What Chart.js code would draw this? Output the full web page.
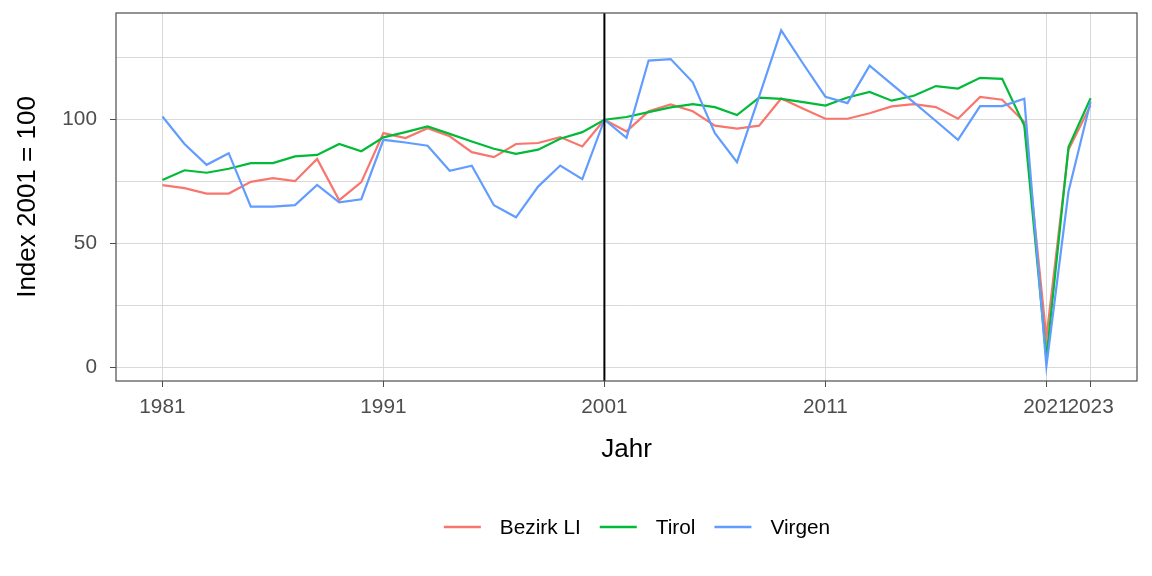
<!DOCTYPE html>
<html>
<head>
<meta charset="utf-8">
<script src="https://cdn.jsdelivr.net/npm/chart.js@4.4.0/dist/chart.umd.min.js"></script>
<style>
  html, body { margin: 0; padding: 0; background: #fff; }
</style>
</head>
<body>
<canvas id="indexChart" width="1152" height="576"></canvas>
<script>
// Jahre 1981 - 2023, Index 2001 = 100
var jahre = [1981,1982,1983,1984,1985,1986,1987,1988,1989,1990,
             1991,1992,1993,1994,1995,1996,1997,1998,1999,2000,
             2001,2002,2003,2004,2005,2006,2007,2008,2009,2010,
             2011,2012,2013,2014,2015,2016,2017,2018,2019,2020,
             2021,2022,2023];

var bezirkLI = [73.6,72.4,70.2,70.2,74.9,76.4,75.2,84.2,67.5,74.8,
                94.6,92.6,96.6,93.3,86.9,84.9,90.2,90.6,93.0,89.2,
                100,95.3,103.4,106.2,103.4,97.6,96.4,97.6,108.6,104.4,
                100.4,100.4,102.6,105.4,106.3,105.1,100.4,109.2,108.1,99.1,
                12.0,87.9,105.8];

var tirol = [75.7,79.6,78.6,80.2,82.5,82.5,85.2,85.8,90.2,87.3,
             92.9,95.0,97.3,94.3,91.2,88.3,86.2,87.9,92.3,95.0,
             100,101.1,103.1,105.0,106.3,105.1,101.9,108.9,108.4,107.1,
             105.7,109.0,111.2,107.7,109.7,113.6,112.6,116.9,116.5,97.7,
             3.6,89.0,108.7];

var virgen = [101.3,90.2,81.8,86.5,64.9,64.9,65.5,73.7,66.6,67.9,
              91.9,90.8,89.5,79.4,81.4,65.5,60.6,73.0,81.5,76.0,
              100,92.7,123.9,124.5,115.1,94.6,82.9,109.3,136.1,122.5,
              109.3,106.7,121.8,114.4,107.0,99.5,91.9,105.5,105.5,108.5,
              0.5,71.0,107.4];

var xTicks = [1981,1991,2001,2011,2021,2023];
var yTicks = [0,25,50,75,100,125];
var yLabels = ['0','','50','','100',''];
var serien = ['Bezirk LI','Tirol','Virgen'];
var farben = ['#F8766D','#00BA38','#619CFF'];
var basisJahr = 2001;

function punkte(werte) {
  var out = [];
  for (var i = 0; i < jahre.length; i++) {
    out.push({x: jahre[i], y: werte[i]});
  }
  return out;
}

var alleWerte = [bezirkLI, tirol, virgen];
var datasets = [];
for (var i = 0; i < serien.length; i++) {
  datasets.push({
    label: serien[i],
    data: punkte(alleWerte[i]),
    borderColor: farben[i],
    backgroundColor: farben[i],
    borderWidth: 2.2,
    pointRadius: 0,
    tension: 0,
    order: serien.length - i
  });
}

var grau = '#4d4d4d';
var gitter = '#d9d9d9';

// Rahmen, vertikale Linie 2001 und Legende
var extras = {
  id: 'extras',
  afterDatasetsDraw: function(chart) {
    var ctx = chart.ctx, a = chart.chartArea;
    var xs = chart.scales.x;
    var px = xs.getPixelForValue(basisJahr);
    ctx.save();
    ctx.strokeStyle = '#000';
    ctx.lineWidth = 2;
    ctx.beginPath();
    ctx.moveTo(px, a.top);
    ctx.lineTo(px, a.bottom);
    ctx.stroke();
    ctx.strokeStyle = grau;
    ctx.lineWidth = 1.2;
    ctx.strokeRect(a.left, a.top, a.right - a.left, a.bottom - a.top);
    ctx.restore();
  },
  afterDraw: function(chart) {
    var ctx = chart.ctx;
    var lineW = 37, gap = 19, y = 527;
    ctx.save();
    ctx.font = '20.8px "Liberation Sans", Arial, sans-serif';
    var total = 0;
    var breiten = [];
    for (var i = 0; i < serien.length; i++) {
      var w = ctx.measureText(serien[i]).width;
      breiten.push(w);
      total += lineW + gap + w;
      if (i < serien.length - 1) total += gap;
    }
    var x = 637 - total / 2;
    ctx.textBaseline = 'middle';
    ctx.fillStyle = '#000';
    for (var i = 0; i < serien.length; i++) {
      ctx.strokeStyle = farben[i];
      ctx.lineWidth = 2.5;
      ctx.beginPath();
      ctx.moveTo(x, y);
      ctx.lineTo(x + lineW, y);
      ctx.stroke();
      x += lineW + gap;
      ctx.fillText(serien[i], x, y + 1);
      x += breiten[i] + gap;
    }
    ctx.restore();
  }
};

var chart = new Chart(document.getElementById('indexChart'), {
  type: 'line',
  data: { datasets: datasets },
  plugins: [extras],
  options: {
    responsive: false,
    animation: false,
    devicePixelRatio: 1,
    layout: { padding: { top: 13, right: 15, bottom: 105, left: 0 } },
    plugins: {
      legend: { display: false },
      tooltip: { enabled: false }
    },
    scales: {
      x: {
        type: 'linear',
        min: 1978.9,
        max: 2025.1,
        afterBuildTicks: function(scale) {
          scale.ticks = xTicks.map(function(v) { return {value: v}; });
        },
        afterFit: function(scale) {
          scale.height = 90;
          scale.paddingLeft = 0;
          scale.paddingRight = 0;
        },
        ticks: {
          autoSkip: false,
          maxRotation: 0,
          padding: 8,
          color: grau,
          font: { family: '"Liberation Sans", Arial, sans-serif', size: 20.8 },
          callback: function(v) { return String(v); }
        },
        grid: { color: gitter, lineWidth: 1, tickColor: grau, tickLength: 6 },
        border: { display: false },
        title: {
          display: true,
          text: 'Jahr',
          color: '#000',
          font: { family: '"Liberation Sans", Arial, sans-serif', size: 26 },
          padding: { top: 0, bottom: 6 }
        }
      },
      y: {
        type: 'linear',
        min: -5.5,
        max: 143.1,
        afterBuildTicks: function(scale) {
          scale.ticks = yTicks.map(function(v) { return {value: v}; });
        },
        afterFit: function(scale) {
          scale.width = 116;
          scale.paddingTop = 0;
          scale.paddingBottom = 0;
        },
        ticks: {
          padding: 13,
          color: grau,
          font: { family: '"Liberation Sans", Arial, sans-serif', size: 20.8 },
          callback: function(v, idx) { return yLabels[yTicks.indexOf(v)]; }
        },
        grid: {
          color: gitter,
          lineWidth: 1,
          tickLength: 6,
          tickColor: function(c) {
            return (c.tick && c.tick.value % 50 === 0) ? grau : 'rgba(0,0,0,0)';
          }
        },
        border: { display: false },
        title: {
          display: true,
          text: 'Index 2001 = 100',
          color: '#000',
          font: { family: '"Liberation Sans", Arial, sans-serif', size: 26 },
          padding: { top: 12, bottom: 0 }
        }
      }
    }
  }
});
</script>
</body>
</html>
